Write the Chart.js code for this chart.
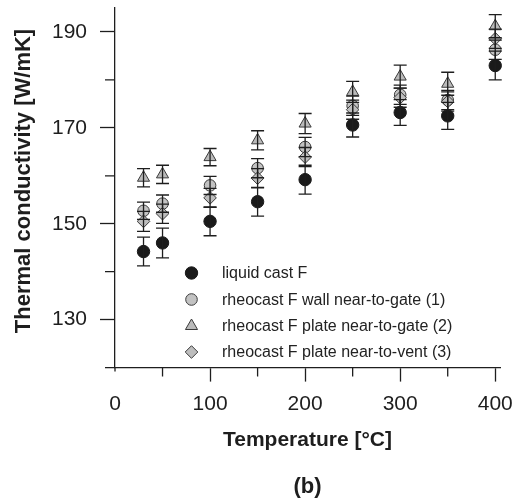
<!DOCTYPE html>
<html><head><meta charset="utf-8">
<script src="https://cdn.jsdelivr.net/npm/chart.js@4/dist/chart.umd.min.js"></script>
<style>html,body{margin:0;padding:0;background:#fff}#wrap{width:521px;height:503px;position:relative}</style>
</head><body><div id="wrap"><canvas id="c"></canvas></div>
<script>
const temperatures = [30, 50, 100, 150, 200, 250, 300, 350, 400];
const liquidCast    = [144.2, 146.0, 150.5, 154.6, 159.2, 170.6, 173.2, 172.5, 183.0];
const liquidCastErr = [3.0, 3.1, 3.0, 3.0, 3.0, 2.5, 2.7, 2.8, 3.0];
const wallGate      = [152.7, 154.2, 158.0, 161.6, 166.0, 174.6, 176.9, 175.8, 186.3];
const wallGateErr   = [1.8, 1.8, 1.9, 2.0, 2.0, 2.0, 2.0, 2.0, 2.0];
const plateGate     = [159.6, 160.3, 163.9, 167.4, 170.9, 177.5, 180.7, 179.2, 191.2];
const plateGateErr  = [1.9, 1.9, 1.8, 2.0, 2.1, 2.2, 2.4, 2.4, 2.4];
const plateVent     = [150.5, 152.1, 155.4, 159.5, 163.9, 173.8, 176.3, 175.5, 188.6];
const plateVentErr  = [2.1, 2.0, 2.0, 2.0, 2.0, 2.0, 2.0, 2.0, 2.0];
const seriesLabels = ['liquid cast F', 'rheocast F wall near-to-gate (1)', 'rheocast F plate near-to-gate (2)', 'rheocast F plate near-to-vent (3)'];
const xMajorTicks = [0, 100, 200, 300, 400];
const xMinorTicks = [50, 150, 250, 350];
const yMajorTicks = [130, 150, 170, 190];
const yMinorTicks = [120, 140, 160, 180];
const xTitle = 'Temperature [°C]';
const yTitle = 'Thermal conductivity [W/mK]';
const panelLabel = '(b)';

const FONT = "'Liberation Sans', Arial, Helvetica, sans-serif";
const INK = '#1e1e1e';

function pts(vals) { return temperatures.map((t, i) => ({ x: t, y: vals[i] })); }

const datasets = [
  { label: seriesLabels[0], data: pts(liquidCast), errors: liquidCastErr, pointStyle: 'circle', pointRadius: 6.2,
    backgroundColor: '#1a1a1a', borderColor: '#1a1a1a', borderWidth: 1, order: 4 },
  { label: seriesLabels[1], data: pts(wallGate), errors: wallGateErr, pointStyle: 'circle', pointRadius: 5.8,
    backgroundColor: '#c2c2c2', borderColor: '#3a3a3a', borderWidth: 1, order: 3 },
  { label: seriesLabels[2], data: pts(plateGate), errors: plateGateErr, pointStyle: 'triangle', pointRadius: 7,
    backgroundColor: '#bababa', borderColor: '#3a3a3a', borderWidth: 1, order: 2 },
  { label: seriesLabels[3], data: pts(plateVent), errors: plateVentErr, pointStyle: 'rectRot', pointRadius: 6.3,
    backgroundColor: '#bdbdbd', borderColor: '#3a3a3a', borderWidth: 1, order: 1 }
];
datasets.forEach(d => { d.showLine = false; d.clip = false; d.pointHoverRadius = d.pointRadius; });

function drawMarker(ctx, style, r, x, y, fill, stroke, bw) {
  ctx.save();
  ctx.fillStyle = fill; ctx.strokeStyle = stroke; ctx.lineWidth = bw;
  ctx.beginPath();
  if (style === 'circle') {
    ctx.arc(x, y, r, 0, Math.PI * 2);
  } else if (style === 'triangle') {
    for (let k = 0; k < 3; k++) {
      const a = k * 2 * Math.PI / 3;
      const px = x + Math.sin(a) * r, py = y - Math.cos(a) * r;
      if (k === 0) ctx.moveTo(px, py); else ctx.lineTo(px, py);
    }
  } else {
    ctx.moveTo(x, y - r); ctx.lineTo(x + r, y); ctx.lineTo(x, y + r); ctx.lineTo(x - r, y);
  }
  ctx.closePath(); ctx.fill(); if (bw > 0) ctx.stroke();
  ctx.restore();
}

const errorBarPlugin = {
  id: 'errorBars',
  afterDatasetsDraw(chart) {
    const ctx = chart.ctx, xs = chart.scales.x, ys = chart.scales.y;
    ctx.save(); ctx.strokeStyle = INK; ctx.lineWidth = 1.3;
    chart.data.datasets.forEach(ds => {
      ds.data.forEach((p, i) => {
        const e = ds.errors[i];
        const px = xs.getPixelForValue(p.x);
        const top = ys.getPixelForValue(p.y + e), bot = ys.getPixelForValue(p.y - e);
        ctx.beginPath();
        ctx.moveTo(px, top); ctx.lineTo(px, bot);
        ctx.moveTo(px - 6.5, top); ctx.lineTo(px + 6.5, top);
        ctx.moveTo(px - 6.5, bot); ctx.lineTo(px + 6.5, bot);
        ctx.stroke();
      });
    });
    ctx.restore();
  }
};

const decorPlugin = {
  id: 'decor',
  afterDraw(chart) {
    const ctx = chart.ctx, xs = chart.scales.x, ys = chart.scales.y, ca = chart.chartArea;
    ctx.save();
    ctx.strokeStyle = INK; ctx.lineWidth = 1.3;
    ctx.beginPath();
    yMinorTicks.forEach(v => { const py = ys.getPixelForValue(v); ctx.moveTo(ca.left - 10, py); ctx.lineTo(ca.left, py); });
    xMinorTicks.forEach(v => { const px = xs.getPixelForValue(v); ctx.moveTo(px, ca.bottom); ctx.lineTo(px, ca.bottom + 9); });
    const p0 = xs.getPixelForValue(0); ctx.moveTo(p0, ca.bottom); ctx.lineTo(p0, ca.bottom + 4);
    ctx.stroke();
    // y axis title
    ctx.fillStyle = INK;
    ctx.font = "bold 22px " + FONT;
    ctx.textAlign = 'center'; ctx.textBaseline = 'middle';
    ctx.translate(24, 181); ctx.rotate(-Math.PI / 2);
    ctx.fillText(yTitle, 0, 0);
    ctx.restore();
    // legend
    ctx.save();
    const rows = [273, 299.5, 326, 352];
    ctx.font = "16px " + FONT; ctx.fillStyle = '#222'; ctx.textBaseline = 'middle'; ctx.textAlign = 'left';
    chart.data.datasets.forEach((ds, i) => {
      drawMarker(ctx, ds.pointStyle, ds.pointRadius, 191.5, rows[i], ds.backgroundColor, ds.borderColor, ds.borderWidth);
      ctx.fillText(ds.label, 222, rows[i] + 1);
    });
    ctx.restore();
  }
};

new Chart(document.getElementById('c'), {
  type: 'scatter',
  data: { datasets },
  plugins: [errorBarPlugin, decorPlugin],
  options: {
    responsive: true, maintainAspectRatio: false, animation: false,
    layout: { padding: { left: 0, right: 21, top: 8, bottom: 0 } },
    plugins: {
      legend: { display: false }, tooltip: { enabled: false },
      title: { display: true, text: panelLabel, position: 'bottom', fullSize: false, color: INK,
        font: { family: FONT, size: 22, weight: 'bold' }, padding: { top: 16, bottom: 3 } }
    },
    scales: {
      x: {
        type: 'linear', position: 'bottom', min: 0, max: 405,
        afterBuildTicks: s => { s.ticks = xMajorTicks.map(v => ({ value: v })); },
        afterFit: s => { s.height = 90; s.paddingLeft = 0; s.paddingRight = 0; },
        grid: { display: true, drawOnChartArea: false, drawTicks: true, tickLength: 14,
          tickColor: c => (c.tick && c.tick.value === 0) ? 'rgba(0,0,0,0)' : INK, tickWidth: 1.3 },
        border: { display: true, color: INK, width: 1.3 },
        ticks: { color: INK, padding: 10, font: { family: FONT, size: 21 }, maxRotation: 0, autoSkip: false },
        title: { display: true, text: xTitle, color: INK, font: { family: FONT, size: 21, weight: 'bold' }, padding: { top: 0, bottom: 5 } }
      },
      y: {
        type: 'linear', position: 'left', min: 120, max: 195,
        afterBuildTicks: s => { s.ticks = yMajorTicks.map(v => ({ value: v })); },
        afterFit: s => { s.width = 115; s.paddingTop = 0; s.paddingBottom = 0; },
        grid: { display: true, drawOnChartArea: false, drawTicks: true, tickLength: 15, tickColor: INK, tickWidth: 1.3 },
        border: { display: true, color: INK, width: 1.3 },
        ticks: { color: INK, padding: 13, font: { family: FONT, size: 21 }, autoSkip: false }
      }
    }
  }
});
</script></body></html>
